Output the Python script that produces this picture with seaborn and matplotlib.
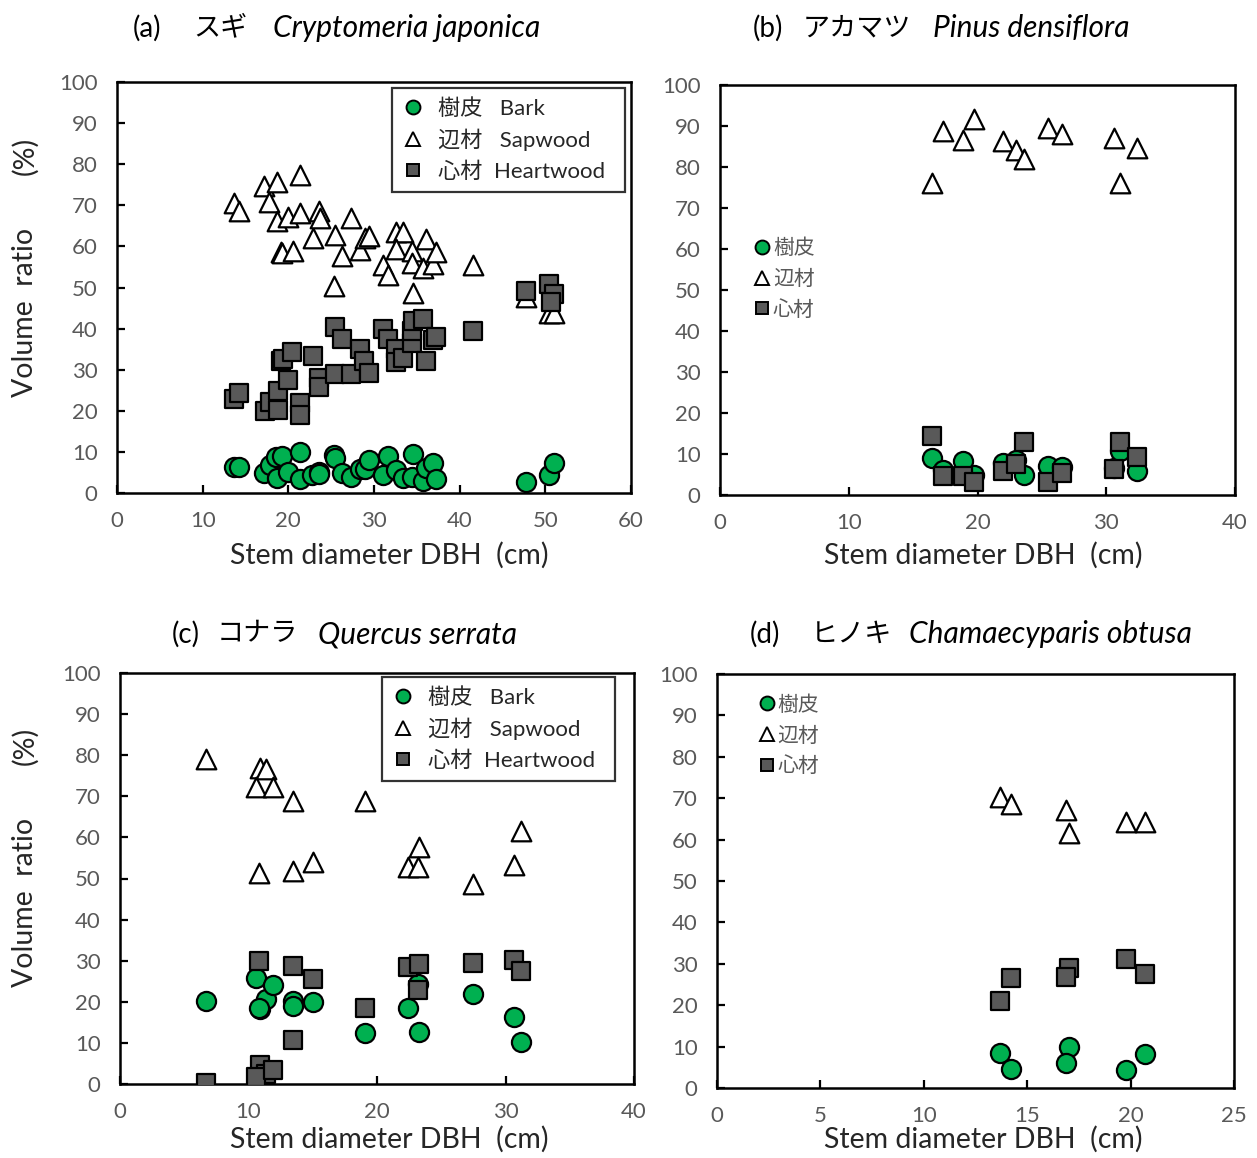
import matplotlib
matplotlib.use("Agg")
import matplotlib.pyplot as plt
import pandas as pd
import seaborn as sns
from matplotlib.lines import Line2D

sns.set_theme(style="white")
plt.rcParams["font.family"] = ["Lato", "Noto Sans CJK JP", "DejaVu Sans"]

# ---- (a) Cryptomeria japonica ----
a_bark_dbh = [13.6, 14.2, 17.2, 17.9, 18.6, 19.3, 18.7, 20.0, 21.4, 21.4, 22.8, 23.6, 23.6,
              25.3, 25.4, 26.3, 27.3, 28.4, 28.9, 29.4, 31.1, 31.6, 32.6, 33.4, 34.5, 34.4,
              35.7, 36.1, 36.9, 37.2, 47.7, 50.4, 51.0]
a_bark = [6.4, 6.4, 4.9, 6.8, 8.8, 9.0, 3.7, 5.2, 9.9, 3.4, 4.4, 5.2, 4.7,
          9.2, 8.6, 4.8, 3.9, 5.8, 5.8, 8.0, 4.5, 9.0, 5.6, 3.6, 9.5, 3.8,
          3.0, 6.0, 7.2, 3.3, 2.7, 4.5, 7.2]
a_sap_dbh = [13.6, 14.2, 17.2, 17.8, 18.7, 18.7, 19.1, 19.3, 20.0, 20.5, 21.4, 21.4, 22.9,
             23.6, 23.7, 25.4, 25.3, 26.3, 27.3, 28.4, 29.0, 29.4, 31.1, 31.6, 32.6, 33.4,
             32.6, 34.4, 34.4, 34.5, 35.7, 36.1, 36.9, 37.2, 41.5, 47.7, 50.4, 51.0]
a_sap = [70.5, 68.7, 74.7, 70.9, 75.7, 66.3, 58.7, 58.3, 67.1, 59.0, 77.4, 68.1, 62.0,
         68.5, 67.0, 62.8, 50.4, 57.7, 66.8, 59.1, 62.0, 62.5, 55.5, 53.0, 63.4, 63.4,
         59.3, 59.0, 55.9, 48.6, 54.7, 61.8, 55.6, 58.6, 55.5, 47.8, 43.7, 43.7]
a_heart_dbh = [13.6, 14.2, 17.3, 17.9, 18.8, 18.8, 19.2, 19.4, 20.0, 20.4, 21.4, 21.4, 22.9,
               23.6, 23.6, 25.4, 25.4, 26.3, 27.3, 28.4, 28.8, 29.4, 31.1, 31.6, 32.6, 32.6,
               33.4, 34.4, 34.4, 34.5, 35.7, 36.1, 36.9, 37.2, 41.5, 47.7, 50.4, 51.0, 50.7]
a_heart = [22.9, 24.4, 20.0, 22.2, 20.2, 24.9, 32.0, 32.6, 27.5, 34.4, 22.0, 19.0, 33.4,
           27.9, 25.9, 40.5, 29.0, 37.4, 29.0, 35.0, 32.0, 29.3, 39.8, 37.4, 35.0, 31.9,
           32.9, 36.6, 39.4, 41.9, 42.3, 32.1, 37.2, 38.0, 39.4, 49.2, 50.9, 48.4, 46.5]

# ---- (b) Pinus densiflora ----
b_dbh = [16.5, 17.3, 18.9, 19.7, 22.0, 23.0, 23.6, 25.5, 26.6, 30.6, 31.1, 32.4]
b_bark = [9.1, 6.1, 8.4, 4.9, 7.7, 8.5, 4.9, 7.1, 6.8, 6.5, 10.7, 5.9]
b_sap = [76.0, 88.9, 86.6, 91.7, 86.4, 84.1, 81.9, 89.4, 88.0, 87.0, 76.0, 84.6]
b_heart = [14.4, 4.6, 4.6, 3.2, 5.9, 7.5, 13.0, 3.2, 5.4, 6.3, 13.0, 9.2]

# ---- (c) Quercus serrata ----
c_dbh = [6.7, 10.9, 11.4, 10.6, 11.9, 13.5, 10.8, 13.5, 15.0, 19.1, 22.4, 23.3, 23.2, 27.5, 30.7, 31.2]
c_bark = [20.3, 18.2, 20.6, 25.9, 24.1, 20.3, 18.6, 18.9, 20.0, 12.3, 18.4, 12.7, 24.3, 21.8, 16.2, 10.3]
c_sap = [79.1, 76.8, 76.6, 72.2, 72.2, 68.8, 51.4, 51.9, 54.1, 68.9, 52.9, 57.7, 52.9, 48.7, 53.3, 61.6]
c_heart = [0.3, 4.6, 2.4, 1.6, 3.4, 10.7, 30.0, 28.7, 25.5, 18.4, 28.4, 29.2, 22.9, 29.5, 30.2, 27.6]

# ---- (d) Chamaecyparis obtusa ----
d_dbh = [13.7, 14.2, 17.0, 16.9, 19.8, 20.7]
d_bark = [8.5, 4.5, 10.0, 6.0, 4.3, 8.1]
d_sap = [70.4, 68.6, 61.5, 67.1, 64.3, 64.3]
d_heart = [21.0, 26.6, 28.9, 26.9, 31.1, 27.5]

GREEN = "#00B050"
DARK = "#595959"
TICK_GRAY = "#595959"
LABEL = "#262626"

W, H = 1257, 1158
fig = plt.figure(figsize=(W / 100, H / 100), dpi=100)


def add_axes(left, top, right, bottom):
    return fig.add_axes([left / W, 1 - bottom / H, (right - left) / W, (bottom - top) / H])


ax_a = add_axes(117, 82, 631, 493)
ax_b = add_axes(720, 85, 1235, 495)
ax_c = add_axes(120, 673, 634, 1084)
ax_d = add_axes(717, 674, 1234, 1088)


def draw(ax, bark, sap, heart, xmax, xstep):
    # bark, sapwood, heartwood drawn as separate layers
    sns.scatterplot(data=pd.DataFrame({"dbh": bark[0], "v": bark[1]}), x="dbh", y="v", ax=ax,
                    marker="o", s=190, color=GREEN, edgecolor="black", linewidth=1.6, zorder=3)
    sns.scatterplot(data=pd.DataFrame({"dbh": sap[0], "v": sap[1]}), x="dbh", y="v", ax=ax,
                    marker="^", s=200, color="white", edgecolor="black", linewidth=1.6, zorder=4)
    sns.scatterplot(data=pd.DataFrame({"dbh": heart[0], "v": heart[1]}), x="dbh", y="v", ax=ax,
                    marker="s", s=150, color=DARK, edgecolor="black", linewidth=1.6, zorder=5)
    ax.set_xlim(0, xmax)
    ax.set_ylim(0, 100)
    ax.set_xticks(range(0, xmax + 1, xstep))
    ax.set_yticks(range(0, 101, 10))
    ax.tick_params(axis="both", direction="in", length=6, width=1.6, colors="black",
                   labelcolor=TICK_GRAY, labelsize=16)
    ax.tick_params(axis="y", pad=14)
    ax.tick_params(axis="x", pad=13)
    ax.tick_params(left=True, bottom=True)
    for sp in ax.spines.values():
        sp.set_visible(True)
        sp.set_color("black")
        sp.set_linewidth(1.8)
    ax.set_xlabel("")
    ax.set_ylabel("")


draw(ax_a, (a_bark_dbh, a_bark), (a_sap_dbh, a_sap), (a_heart_dbh, a_heart), 60, 10)
draw(ax_b, (b_dbh, b_bark), (b_dbh, b_sap), (b_dbh, b_heart), 40, 10)
draw(ax_c, (c_dbh, c_bark), (c_dbh, c_sap), (c_dbh, c_heart), 40, 10)
draw(ax_d, (d_dbh, d_bark), (d_dbh, d_sap), (d_dbh, d_heart), 25, 5)

# x-axis captions
for xc, yc in ((389, 555), (983, 555), (389, 1139), (983, 1139)):
    fig.text(xc / W, 1 - yc / H, "Stem diameter DBH  (cm)", fontsize=20.5, color=LABEL,
             ha="center", va="center")


def handles():
    return [
        Line2D([], [], ls="", marker="o", ms=10, mfc=GREEN, mec="black", mew=1.4),
        Line2D([], [], ls="", marker="^", ms=10, mfc="white", mec="black", mew=1.4),
        Line2D([], [], ls="", marker="s", ms=9, mfc=DARK, mec="black", mew=1.4),
    ]


full_labels = ["樹皮   Bark", "辺材   Sapwood", "心材  Heartwood"]
short_labels = ["樹皮", "辺材", "心材"]

# boxed legends spanning a fixed width at the upper right
for ax, (px0, px1, ptop, axl, axr, axt, axb) in (
        (ax_a, (392, 625, 88, 117, 631, 82, 493)),
        (ax_c, (382, 615, 677, 120, 634, 673, 1084))):
    x0 = (px0 - axl) / (axr - axl)
    w = (px1 - px0) / (axr - axl)
    ytop = (axb - ptop) / (axb - axt)
    leg = ax.legend(handles(), full_labels, loc="upper left",
                    bbox_to_anchor=(x0, ytop - 0.3, w, 0.3), mode="expand",
                    borderaxespad=0, frameon=True, fancybox=False, fontsize=16,
                    handletextpad=0.6, labelspacing=0.45, borderpad=0.45, handlelength=1.0)
    leg.get_frame().set_edgecolor("black")
    leg.get_frame().set_linewidth(1.6)
    for t in leg.get_texts():
        t.set_color(LABEL)

for ax, anchor in ((ax_b, (0.05, 0.647)), (ax_d, (0.065, 0.97))):
    leg = ax.legend(handles(), short_labels, loc="upper left", bbox_to_anchor=anchor,
                    borderaxespad=0, frameon=False, fontsize=15,
                    handletextpad=0.1, labelspacing=0.52, handlelength=0.8)
    for t in leg.get_texts():
        t.set_color(TICK_GRAY)

# panel titles: Japanese name upright, scientific name italic
titles = [
    (133, 193, 273, 28, "(a)", "スギ", "Cryptomeria japonica"),
    (753, 803, 933, 28, "(b)", "アカマツ", "Pinus densiflora"),
    (172, 217, 318, 634, "(c)", "コナラ", "Quercus serrata"),
    (750, 811, 909, 634, "(d)", "ヒノキ", "Chamaecyparis obtusa"),
]
for x0, x1, x2, y, lab, jp, sci in titles:
    fig.text(x0 / W, 1 - y / H, lab, fontsize=20, va="center", ha="left", color="black")
    fig.text(x1 / W, 1 - y / H, jp, fontsize=19.5, va="center", ha="left", color="black")
    fig.text(x2 / W, 1 - y / H, sci, fontsize=21.5, va="center", ha="left", color="black",
             style="italic")

# y-axis captions on the left panels
for yc, yp in ((312, 156), (902, 746)):
    fig.text(25 / W, 1 - yc / H, "Volume  ratio", rotation=90, fontsize=20.5,
             va="center", ha="center", color=LABEL)
    fig.text(25 / W, 1 - yp / H, "(%)", rotation=90, fontsize=20.5,
             va="center", ha="center", color=LABEL)

fig.savefig("out.png", dpi=100, facecolor="white")
